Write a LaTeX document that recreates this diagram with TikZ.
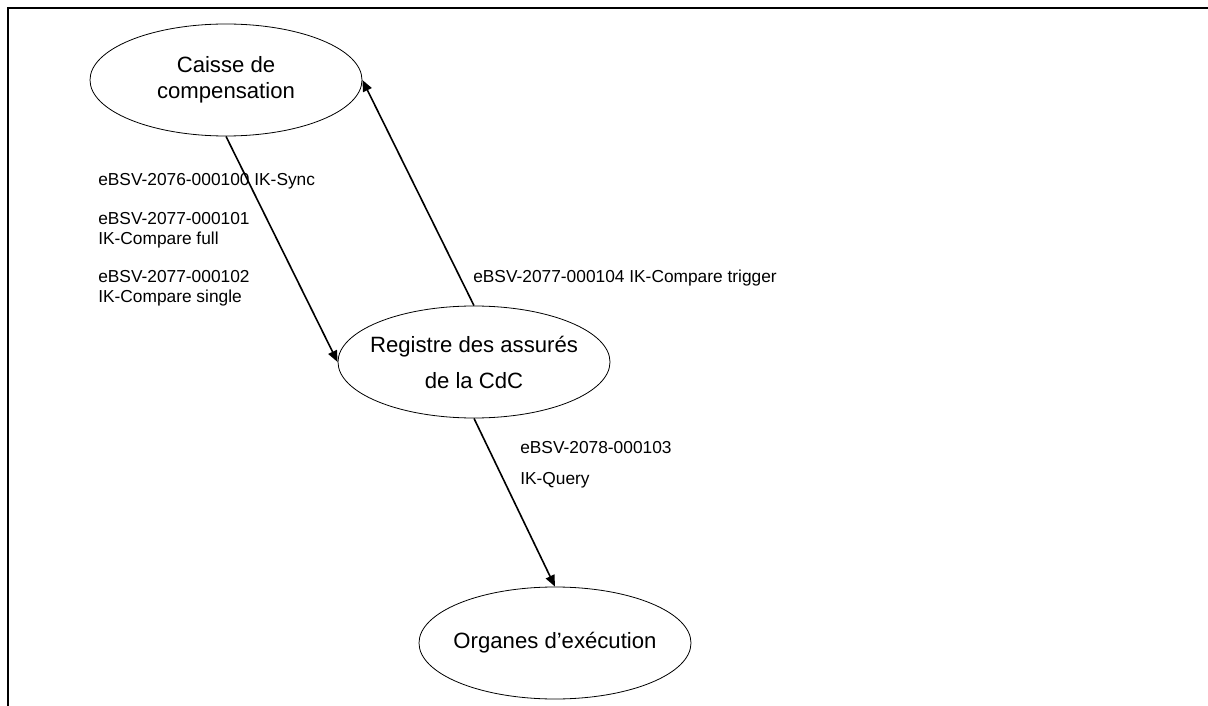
\documentclass[tikz,border=0pt]{standalone}
\usepackage{fontspec}
\setmainfont{Liberation Sans}
\usetikzlibrary{shapes.geometric,arrows.meta}
\begin{document}
\begin{tikzpicture}[x=0.75pt,y=-0.75pt,
  entity/.style={ellipse,draw,line width=0.6pt,minimum width=204pt,minimum height=84pt,inner sep=0pt,align=center,font=\fontsize{16.6}{19.5}\selectfont},
  flow/.style={line width=1.2pt,-{Triangle[length=8.5pt,width=7pt]}},
  lbl/.style={anchor=base west,inner sep=0pt,align=left,font=\fontsize{13}{15.5}\selectfont},
  frameline/.style={line width=1.9pt}]
\useasboundingbox (0,0) rectangle (1208,706);
\coordinate (ftl) at (8,8);
\coordinate (ftr) at (1208,8);
\coordinate (fbl) at (8,706);
\draw[frameline] (fbl) -- (ftl) -- (ftr);
\node[entity] (cc) at (226,80) {Caisse de\\compensation};
\node[entity,font=\fontsize{16.6}{27}\selectfont] (reg) at (474,362) {\makebox[140pt]{Registre des assurés}\\de la CdC};
\node[entity] (org) at (555,643) {\makebox[140pt]{Organes d’exécution}};
\draw[flow] (cc.south) -- (reg.west);
\draw[flow] (reg.north) -- (cc.east);
\draw[flow] (reg.south) -- (org.north);
\node[lbl] (l1) at (98,186) {eBSV-2076-000100 IK-Sync};
\node[lbl] (l2) at (98,245) {eBSV-2077-000101\\IK-Compare full};
\node[lbl] (l3) at (98,303) {eBSV-2077-000102\\IK-Compare single};
\node[lbl] (l4) at (473,283) {eBSV-2077-000104 IK-Compare trigger};
\node[lbl,font=\fontsize{13}{23.25}\selectfont] (l5) at (520,484) {eBSV-2078-000103\\IK-Query};
\end{tikzpicture}
\end{document}
